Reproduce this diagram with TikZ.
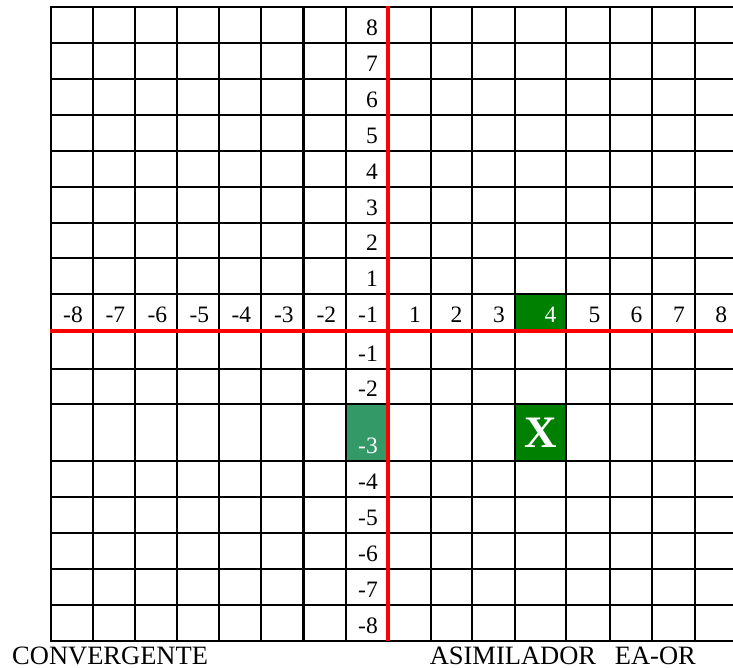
\documentclass[tikz,border=0pt]{standalone}
\usepackage{fontspec}
\setmainfont{Liberation Serif}
\usepackage{xcolor}
\usepackage{tikz}
\usetikzlibrary{positioning}
\definecolor{cellgreen}{HTML}{008000}
\definecolor{cellsea}{HTML}{339966}
\definecolor{axisred}{HTML}{FF0000}

\tikzset{
    gridline/.style={line width=2.2pt, black},
    axisline/.style={line width=4pt, axisred},
    numlbl/.style={anchor=base east, inner sep=0pt, font=\fontsize{23.5}{27}\selectfont},
    caption/.style={anchor=base west, inner sep=0pt, font=\fontsize{26.5}{30}\selectfont}
}

\begin{document}
\begin{tikzpicture}[x=1pt, y=-1pt]
    \clip (0,0) rectangle (733,668);
    \fill[white] (0,0) rectangle (733,668);

    % Shaded cells
    \fill[cellgreen] (514.7,294.3) rectangle (566.3,330.7);
    \fill[cellgreen] (514.7,404) rectangle (566.3,461);
    \fill[cellsea] (346,404) rectangle (387.7,461);

    % Grid
    \foreach \x in {50.7,92.7,135,177,219,261,303.5,346,430.7,472.3,514.7,566.3,610.3,652.3,694.7,737}
        \draw[gridline] (\x,7.3) -- (\x,640.7);
    \foreach \y in {7.3,42.7,79.3,115,151,186.7,222.7,258.3,294.3,368.7,404,461,497.3,532.7,568.7,604.7,640.7}
        \draw[gridline] (49.6,\y) -- (737,\y);

    % Axes
    \draw[axisline] (387.7,6.2) -- (387.7,640.7);
    \draw[axisline] (49.6,330.7) -- (737,330.7);

    % Labels on the vertical axis
    \foreach \n/\yb in {8/42.7,7/79.3,6/115,5/151,4/186.7,3/222.7,2/258.3,1/294.3}
        \node[numlbl] (ypos\n) at (378,\yb-7.5) {\n};
    \foreach \n/\yb in {1/368.7,2/404,4/497.3,5/532.7,6/568.7,7/604.7,8/640.7}
        \node[numlbl] (yneg\n) at (378,\yb-7.5) {-\n};
    \node[numlbl, text=white] (yneg3) at (378,453.5) {-3};

    % Labels on the horizontal axis
    \foreach \n/\xr in {8/92.7,7/135,6/177,5/219,4/261,3/303.5,2/346,1/387.7}
        \node[numlbl] (xneg\n) at (\xr-9.7,322.2) {-\n};
    \foreach \n/\xr in {1/430.7,2/472.3,3/514.7,5/610.3,6/652.3,7/694.7,8/737}
        \node[numlbl] (xpos\n) at (\xr-9.7,322.2) {\n};
    \node[numlbl, text=white] (xpos4) at (556.6,322.2) {4};

    % Marked point
    \node[inner sep=0pt, text=white, font=\fontsize{45}{50}\selectfont\bfseries] (mark) at (540.5,432.5) {X};

    % Captions
    \node[caption] (conv) at (12,664.5) {CONVERGENTE};
    \node[caption] (asim) at (429.6,664.5) {ASIMILADOR};
    \node[caption] (eaor) at (614.7,664.5) {EA-OR};
\end{tikzpicture}
\end{document}
